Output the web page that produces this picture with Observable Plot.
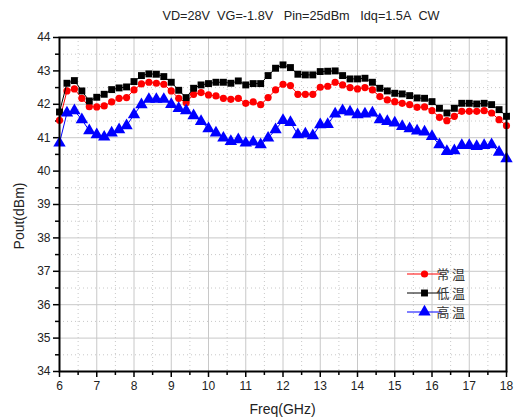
<!DOCTYPE html>
<html>
<head>
<meta charset="utf-8">
<script src="https://cdn.jsdelivr.net/npm/d3@7"></script>
<script src="https://cdn.jsdelivr.net/npm/@observablehq/plot@0.6"></script>
<style>
  html, body { margin: 0; padding: 0; background: #fff; }
  svg { display: block; }
</style>
</head>
<body>
<div id="chart"></div>
<script>
const title = "VD=28V\u00a0\u00a0VG=-1.8V\u00a0\u00a0\u00a0Pin=25dBm\u00a0\u00a0\u00a0Idq=1.5A\u00a0\u00a0CW";
const xLabel = "Freq(GHz)";
const yLabel = "Pout(dBm)";
const seriesNames = ["常温", "低温", "高温"];
const xTicks = [6, 7, 8, 9, 10, 11, 12, 13, 14, 15, 16, 17, 18];
const yTicks = [34, 35, 36, 37, 38, 39, 40, 41, 42, 43, 44];

const freq = [
  6.0, 6.2, 6.4, 6.6, 6.8, 7.0, 7.2, 7.4, 7.6, 7.8,
  8.0, 8.2, 8.4, 8.6, 8.8, 9.0, 9.2, 9.4, 9.6, 9.8,
  10.0, 10.2, 10.4, 10.6, 10.8, 11.0, 11.2, 11.4, 11.6, 11.8,
  12.0, 12.2, 12.4, 12.6, 12.8, 13.0, 13.2, 13.4, 13.6, 13.8,
  14.0, 14.2, 14.4, 14.6, 14.8, 15.0, 15.2, 15.4, 15.6, 15.8,
  16.0, 16.2, 16.4, 16.6, 16.8, 17.0, 17.2, 17.4, 17.6, 17.8, 18.0
];
// 常温 (room temperature)
const roomTemp = [
  41.52, 42.40, 42.46, 42.18, 41.93, 41.92, 41.95, 42.07, 42.18, 42.20,
  42.43, 42.61, 42.66, 42.63, 42.60, 42.40, 42.18, 42.05, 42.30, 42.35,
  42.28, 42.25, 42.18, 42.15, 42.18, 42.03, 42.07, 41.99, 42.20, 42.43,
  42.60, 42.56, 42.30, 42.30, 42.30, 42.51, 42.54, 42.66, 42.58, 42.50,
  42.46, 42.50, 42.43, 42.23, 42.13, 42.08, 42.03, 41.99, 41.91, 41.92,
  41.81, 41.61, 41.51, 41.64, 41.79, 41.79, 41.79, 41.81, 41.74, 41.54, 41.36
];
// 低温 (low temperature)
const lowTemp = [
  41.77, 42.63, 42.71, 42.40, 42.10, 42.21, 42.30, 42.44, 42.49, 42.52,
  42.68, 42.86, 42.91, 42.90, 42.83, 42.66, 42.42, 42.20, 42.48, 42.58,
  42.62, 42.66, 42.66, 42.63, 42.70, 42.58, 42.62, 42.62, 42.86, 43.08,
  43.18, 43.10, 42.90, 42.88, 42.88, 42.98, 42.99, 43.00, 42.86, 42.76,
  42.76, 42.78, 42.66, 42.48, 42.40, 42.33, 42.31, 42.26, 42.19, 42.18,
  42.08, 41.88, 41.74, 41.88, 42.03, 42.03, 42.01, 42.03, 41.99, 41.84, 41.64
];
// 高温 (high temperature)
const highTemp = [
  40.84, 41.74, 41.81, 41.54, 41.21, 41.09, 41.02, 41.14, 41.24, 41.36,
  41.69, 41.99, 42.15, 42.15, 42.15, 42.00, 41.88, 41.81, 41.66, 41.49,
  41.27, 41.14, 40.99, 40.89, 40.94, 40.84, 40.87, 40.79, 40.99, 41.24,
  41.52, 41.46, 41.09, 41.11, 41.06, 41.39, 41.40, 41.71, 41.81, 41.77,
  41.69, 41.71, 41.74, 41.54, 41.49, 41.44, 41.34, 41.27, 41.20, 41.17,
  41.04, 40.79, 40.59, 40.61, 40.77, 40.77, 40.74, 40.77, 40.79, 40.57, 40.37
];

const colors = ["#ff0000", "#000000", "#0000ff"];
const symbols = ["circle", "square", "triangle"];
const radii = [3.6, 3.9, 4.6];
const allValues = [roomTemp, lowTemp, highTemp];

const data = [];
allValues.forEach((vals, s) => {
  vals.forEach((v, i) => data.push({ series: seriesNames[s], x: freq[i], y: v }));
});

const W = 514, H = 419;
const mL = 59, mR = 8, mT = 37, mB = 48;
const minorX = d3.range(6.5, 18, 1);
const minorY = d3.range(34.5, 44, 1);

const seriesMarks = [];
seriesNames.forEach((name, s) => {
  const d = data.filter(p => p.series === name);
  seriesMarks.push(Plot.line(d, { x: "x", y: "y", stroke: colors[s], strokeWidth: 1 }));
  seriesMarks.push(Plot.dot(d, { x: "x", y: "y", fill: colors[s], stroke: "none", symbol: symbols[s], r: radii[s] }));
});

const chart = Plot.plot({
  width: W,
  height: H,
  marginLeft: mL,
  marginRight: mR,
  marginTop: mT,
  marginBottom: mB,
  style: { fontFamily: "Liberation Sans, Arial, sans-serif", fontSize: "12px", color: "#222", background: "#fff" },
  x: { domain: [6, 18] },
  y: { domain: [34, 44] },
  marks: [
    Plot.gridX(minorX, { stroke: "#c8c8c8", strokeOpacity: 1, strokeDasharray: "1,3" }),
    Plot.gridY(minorY, { stroke: "#c8c8c8", strokeOpacity: 1, strokeDasharray: "1,3" }),
    Plot.gridX(xTicks, { stroke: "#c8c8c8", strokeOpacity: 1 }),
    Plot.gridY(yTicks, { stroke: "#c8c8c8", strokeOpacity: 1 }),
    Plot.axisX(xTicks, { tickSize: 6, tickPadding: 4, label: null, stroke: "#000", strokeWidth: 1.5, fill: "#222" }),
    Plot.axisX(minorX, { tickSize: 4, tickFormat: () => "", label: null, stroke: "#000", strokeWidth: 1.5 }),
    Plot.axisY(yTicks, { tickSize: 6, tickPadding: 3, label: null, stroke: "#000", strokeWidth: 1.5, fill: "#222" }),
    Plot.axisY(minorY, { tickSize: 4, tickFormat: () => "", label: null, stroke: "#000", strokeWidth: 1.5 }),
    ...seriesMarks,
    Plot.frame({ stroke: "#000", strokeWidth: 2 })
  ]
});

document.getElementById("chart").appendChild(chart);

const svg = d3.select(chart);
const font = "Liberation Sans, Arial, sans-serif";

// Title
svg.append("text")
  .attr("x", 301).attr("y", 20)
  .attr("text-anchor", "middle")
  .attr("font-family", font).attr("font-size", 12.7).attr("fill", "#222")
  .text(title);

// Axis titles
svg.append("text")
  .attr("x", mL + (W - mL - mR) / 2).attr("y", 414)
  .attr("text-anchor", "middle")
  .attr("font-family", font).attr("font-size", 14).attr("fill", "#222")
  .text(xLabel);

svg.append("text")
  .attr("transform", "translate(24, 216) rotate(-90)")
  .attr("text-anchor", "middle")
  .attr("font-family", font).attr("font-size", 14).attr("fill", "#222")
  .text(yLabel);

// Legend
const lg = svg.append("g");
const rowY = [274, 293, 312];
seriesNames.forEach((name, s) => {
  const y = rowY[s];
  lg.append("line").attr("x1", 407).attr("x2", 442).attr("y1", y).attr("y2", y)
    .attr("stroke", colors[s]).attr("stroke-width", 1);
  const symType = [d3.symbolCircle, d3.symbolSquare, d3.symbolTriangle][s];
  lg.append("path")
    .attr("transform", `translate(424.5, ${y})`)
    .attr("d", d3.symbol(symType, Math.PI * radii[s] * radii[s])())
    .attr("fill", colors[s]);
  lg.append("text").attr("x", 452).attr("y", y + 5)
    .attr("font-family", "Noto Sans CJK SC, sans-serif").attr("font-size", 13).attr("letter-spacing", 2.5).attr("fill", "#333")
    .text(name);
});
</script>
</body>
</html>
